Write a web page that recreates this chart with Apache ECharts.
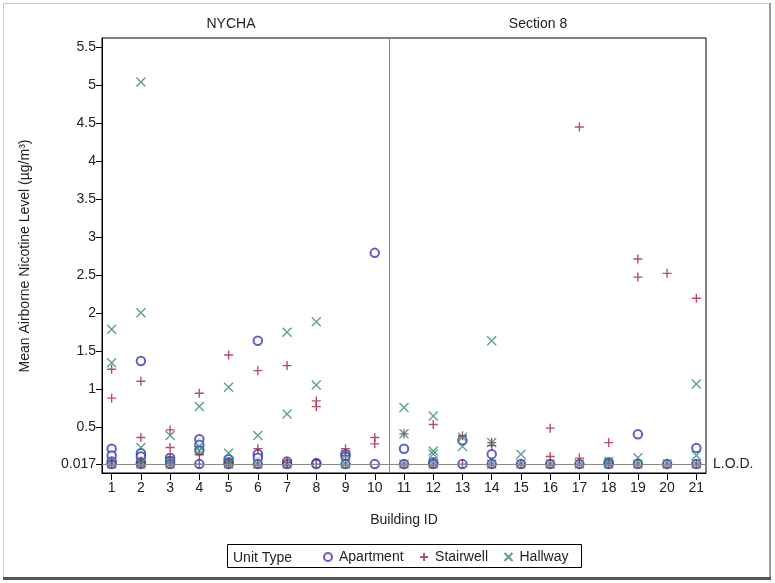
<!DOCTYPE html>
<html>
<head>
<meta charset="utf-8">
<script src="https://cdn.jsdelivr.net/npm/echarts@6/dist/echarts.min.js"></script>
<style>html,body{margin:0;padding:0;background:#fff}#c{width:775px;height:583px}</style>
</head>
<body>
<div id="c"></div>
<script>
// Building IDs shown on the x axis
const buildings = [1,2,3,4,5,6,7,8,9,10,11,12,13,14,15,16,17,18,19,20,21];
// Y tick labels
const yTicks = [0.017,0.5,1,1.5,2,2.5,3,3.5,4,4.5,5,5.5];
const LOD = 0.017;
const panels = ['NYCHA','Section 8'];
const panelSplit = 10.5;

// [building, mean airborne nicotine level µg/m³]
const apartment = [
  [1,0.218],[1,0.13],[1,0.05],[1,0.017],
  [2,1.373],[2,0.16],[2,0.117],[2,0.04],[2,0.017],
  [3,0.1],[3,0.06],[3,0.017],
  [4,0.345],[4,0.27],[4,0.2],[4,0.017],
  [5,0.08],[5,0.04],[5,0.017],
  [6,1.64],[6,0.15],[6,0.1],[6,0.017],
  [7,0.05],[7,0.017],
  [8,0.03],[8,0.017],
  [9,0.15],[9,0.12],[9,0.017],
  [10,2.795],[10,0.017],
  [11,0.218],[11,0.017],
  [12,0.04],[12,0.017],
  [13,0.33],[13,0.017],
  [14,0.148],[14,0.017],
  [15,0.017],[16,0.017],[17,0.017],
  [18,0.04],[18,0.017],
  [19,0.41],[19,0.017],
  [20,0.017],
  [21,0.23],[21,0.017]
];
const stairwell = [
  [1,1.265],[1,0.884],[1,0.05],[1,0.017],
  [2,1.107],[2,0.366],[2,0.04],[2,0.017],
  [3,0.467],[3,0.235],[3,0.1],[3,0.017],
  [4,0.949],[4,0.14],[4,0.017],
  [5,1.452],[5,0.04],[5,0.017],
  [6,1.246],[6,0.22],[6,0.017],
  [7,1.312],[7,0.04],[7,0.017],
  [8,0.848],[8,0.773],[8,0.017],
  [9,0.22],[9,0.13],[9,0.017],
  [10,0.366],[10,0.283],
  [11,0.415],[11,0.017],
  [12,0.537],[12,0.017],
  [13,0.39],[13,0.017],
  [14,0.30],[14,0.26],[14,0.017],
  [15,0.017],
  [16,0.49],[16,0.117],[16,0.017],
  [17,4.45],[17,0.096],[17,0.017],
  [18,0.30],[18,0.017],
  [19,2.713],[19,2.476],[19,0.017],
  [20,2.525],[20,0.017],
  [21,2.197],[21,0.017]
];
const hallway = [
  [1,1.79],[1,1.35],[1,0.017],
  [2,5.04],[2,2.008],[2,0.235],[2,0.04],[2,0.017],
  [3,0.393],[3,0.06],[3,0.017],
  [4,0.773],[4,0.25],[4,0.2],
  [5,1.028],[5,0.161],[5,0.05],[5,0.017],
  [6,0.393],[6,0.017],
  [7,1.75],[7,0.677],[7,0.017],
  [8,1.89],[8,1.058],
  [9,0.14],[9,0.017],
  [11,0.76],[11,0.415],[11,0.017],
  [12,0.651],[12,0.19],[12,0.15],[12,0.017],
  [13,0.37],[13,0.248],
  [14,1.64],[14,0.30],[14,0.017],
  [15,0.148],[15,0.017],
  [16,0.017],[17,0.017],
  [18,0.05],[18,0.017],
  [19,0.1],[19,0.017],
  [20,0.017],
  [21,1.071],[21,0.13],[21,0.017]
];

const FONT = '"Liberation Sans", Arial, sans-serif';
const TXT = '#222';
const C_APT = '#3434c2', C_STR = '#a8203c', C_HAL = '#358a78';
const PLUS = 'path://M5,0L5,10M0,5L10,5';
const CROSS = 'path://M0,0L10,10M10,0L0,10';

const chart = echarts.init(document.getElementById('c'), null, {renderer:'canvas'});
chart.setOption({
  backgroundColor:'#fff',
  animation:false,
  textStyle:{fontFamily:FONT},
  grid:{left:102, top:38, width:604, height:435, show:true, borderColor:'#000', borderWidth:1, backgroundColor:'transparent'},
  xAxis:{
    type:'value', min:0.67, max:21.33,
    axisLine:{onZero:false, lineStyle:{color:'#000', width:1}},
    axisTick:{show:true, length:7, lineStyle:{color:'#000'}, customValues:buildings},
    axisLabel:{color:TXT, fontSize:14, margin:8, fontFamily:FONT, customValues:buildings},
    splitLine:{show:false}
  },
  yAxis:{
    type:'value', min:-0.1, max:5.62,
    axisLine:{show:true, onZero:false, lineStyle:{color:'#000', width:1}},
    axisTick:{show:true, length:6, lineStyle:{color:'#000'}, customValues:yTicks},
    axisLabel:{color:TXT, fontSize:14, margin:6, fontFamily:FONT, customValues:yTicks,
      formatter:v => (Math.abs(v-LOD)<1e-9 ? '0.017' : String(v))},
    splitLine:{show:false}
  },
  legend:{
    left:318, top:545, itemWidth:8, itemHeight:8, itemGap:14,
    textStyle:{color:TXT, fontSize:14, fontFamily:FONT, padding:[0,0,0,2]},
    data:['Apartment','Stairwell','Hallway']
  },
  graphic:[
    {type:'rect', shape:{x:3.5,y:3.5,width:767,height:575}, style:{fill:'none', stroke:'#c8c8c8', lineWidth:1}, silent:true},
    {type:'line', shape:{x1:770,y1:3,x2:770,y2:579}, style:{stroke:'#999', lineWidth:2}, silent:true},
    {type:'line', shape:{x1:3,y1:578.5,x2:771,y2:578.5}, style:{stroke:'#555', lineWidth:3}, silent:true},
    {type:'text', x:231, y:24, style:{text:panels[0], font:'14px '+FONT, fill:TXT, align:'center', verticalAlign:'middle'}},
    {type:'text', x:538, y:24, style:{text:panels[1], font:'14px '+FONT, fill:TXT, align:'center', verticalAlign:'middle'}},
    {type:'text', x:25, y:256, rotation:Math.PI/2, style:{text:'Mean Airborne Nicotine Level (µg/m³)', font:'14px '+FONT, fill:TXT, align:'center', verticalAlign:'middle'}},
    {type:'text', x:404, y:520, style:{text:'Building ID', font:'14px '+FONT, fill:TXT, align:'center', verticalAlign:'middle'}},
    {type:'rect', shape:{x:227.5,y:544.5,width:354,height:23}, style:{fill:'none', stroke:'#000', lineWidth:1}, silent:true},
    {type:'text', x:233, y:558, style:{text:'Unit Type', font:'14px '+FONT, fill:TXT, align:'left', verticalAlign:'middle'}}
  ],
  series:[
    {name:'Apartment', type:'scatter', data:apartment, symbol:'emptyCircle', symbolSize:8.5,
      itemStyle:{color:C_APT, borderColor:C_APT, borderWidth:1.5},
      markLine:{silent:true, symbol:['none','none'], animation:false,
        label:{show:true, position:'end', formatter:'L.O.D.', color:TXT, fontSize:14, fontFamily:FONT, distance:7},
        lineStyle:{color:'#8a8a8a', width:1, type:'solid'},
        data:[{yAxis:LOD}]}
    },
    {name:'Stairwell', type:'scatter', data:stairwell, symbol:PLUS, symbolSize:9,
      itemStyle:{color:'none', borderColor:C_STR, borderWidth:1.4},
      markLine:{silent:true, symbol:['none','none'], animation:false, label:{show:false},
        lineStyle:{color:'#8a8a8a', width:1, type:'solid'},
        data:[{xAxis:panelSplit}]}
    },
    {name:'Hallway', type:'scatter', data:hallway, symbol:CROSS, symbolSize:9,
      itemStyle:{color:'none', borderColor:C_HAL, borderWidth:1.4}
    }
  ]
});
</script>
</body>
</html>
